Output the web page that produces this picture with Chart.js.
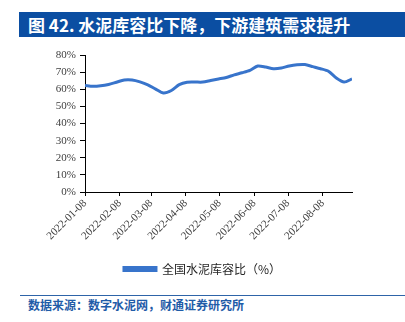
<!DOCTYPE html>
<html>
<head>
<meta charset="utf-8">
<script src="https://cdn.jsdelivr.net/npm/chart.js@4/dist/chart.umd.min.js"></script>
<style>
  html,body{margin:0;padding:0;background:#fff;width:405px;height:322px;overflow:hidden;}
  #title{position:absolute;left:19px;top:12px;width:386px;height:25px;background:#0B4EA2;color:#fff;
    font-family:"Noto Sans CJK SC","Noto Sans",sans-serif;font-weight:bold;font-size:17px;line-height:25px;
    padding-left:9px;box-sizing:border-box;white-space:nowrap;}
  #wrap{position:absolute;left:0;top:40px;width:405px;height:245px;}
  #rule{position:absolute;left:20px;top:295px;width:385px;height:0;border-top:1px solid #2E64A8;}
  #src{position:absolute;left:28px;top:297px;color:#1F5CA8;font-family:"Noto Sans CJK SC",sans-serif;
    font-weight:bold;font-size:12px;line-height:16px;white-space:nowrap;}
</style>
</head>
<body>
<div id="title">图 42. 水泥库容比下降，下游建筑需求提升</div>
<div id="wrap"><canvas id="c" width="405" height="245"></canvas></div>
<div id="rule"></div>
<div id="src">数据来源：数字水泥网，财通证券研究所</div>
<script>
// days since 2022-01-08 (weekly observations)
const days = [0,7,14,21,28,35,42,49,56,63,70,77,84,91,98,105,112,119,126,133,140,147,154,161,168,175,182,189,196,203,210,217,224,231,238];
const values = [62.2,61.7,62.0,62.8,64.1,65.4,65.4,64.3,62.6,60.1,57.8,59.3,62.7,64.1,64.2,64.2,65.1,66.0,66.9,68.4,69.6,71.0,73.6,73.0,72.0,72.4,73.6,74.3,74.4,73.2,72.0,70.5,66.6,64.2,66.0];
const tickDays = [0,31,59,90,120,151,181,212];
const tickLabels = ['2022-01-08','2022-02-08','2022-03-08','2022-04-08','2022-05-08','2022-06-08','2022-07-08','2022-08-08'];
const seriesName = '全国水泥库容比（%）';

const lineColor = '#3874CB';
const serif = '"Liberation Serif","Times New Roman",serif';

new Chart(document.getElementById('c'), {
  type: 'line',
  data: {
    datasets: [{
      label: seriesName,
      data: days.map((d,i)=>({x:d,y:values[i]})),
      borderColor: lineColor,
      backgroundColor: lineColor,
      borderWidth: 3,
      pointRadius: 0,
      tension: 0.25,
      fill: false
    }]
  },
  options: {
    responsive: false,
    animation: false,
    layout: {padding: {left: 0, right: 0, top: 15, bottom: 0}},
    plugins: {
      tooltip: {enabled: false},
      legend: {
        position: 'bottom',
        labels: {
          boxWidth: 32, boxHeight: 3,
          color: '#262626',
          font: {family: '"Noto Sans CJK SC",sans-serif', size: 12},
          padding: 8
        }
      }
    },
    scales: {
      x: {
        type: 'linear',
        min: 0, max: 238,
        afterBuildTicks: (axis) => { axis.ticks = tickDays.map(v=>({value:v})); },
        afterFit: (axis) => { axis.height = 63; },
        grid: {drawOnChartArea: false, drawTicks: true, tickLength: 4, color: '#000'},
        border: {display: true, color: '#000', width: 1},
        ticks: {
          autoSkip: false,
          minRotation: 45, maxRotation: 45,
          padding: 1,
          color: '#404040',
          font: {family: serif, size: 11},
          callback: (v) => { const i = tickDays.indexOf(v); return i >= 0 ? tickLabels[i] : ''; }
        }
      },
      y: {
        min: 0, max: 80,
        afterFit: (axis) => { axis.width = 85; },
        grid: {drawOnChartArea: false, drawTicks: true, tickLength: 5, color: '#000'},
        border: {display: true, color: '#000', width: 1},
        ticks: {
          stepSize: 10,
          padding: 4,
          color: '#404040',
          font: {family: serif, size: 11},
          callback: (v) => v + '%'
        }
      },
      yRight: {
        position: 'right',
        display: true,
        afterFit: (axis) => { axis.width = 53; },
        grid: {display: false},
        border: {display: false},
        ticks: {display: false}
      }
    }
  }
});
</script>
</body>
</html>
